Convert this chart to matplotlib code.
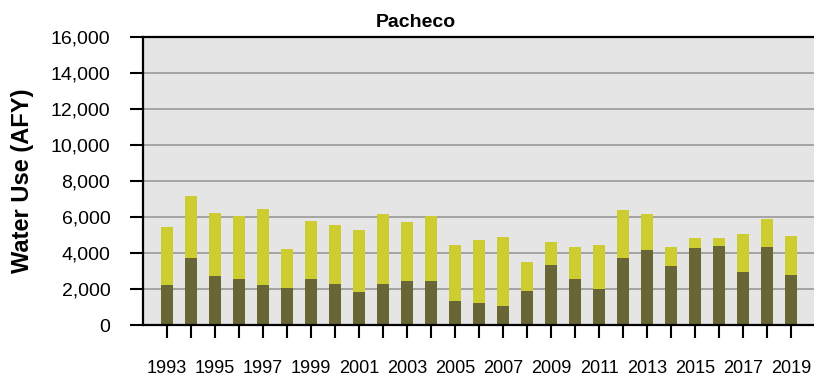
import matplotlib
matplotlib.use("Agg")
import matplotlib.pyplot as plt
import numpy as np

years = list(range(1993, 2020))
# lower (dark olive) series, AFY
lower_use = [2220, 3720, 2720, 2560, 2220, 2060, 2560, 2280, 1830, 2280,
             2440, 2440, 1330, 1220, 1060, 1890, 3330, 2560, 2000, 3720,
             4170, 3280, 4280, 4390, 2940, 4330, 2780]
# upper (yellow-green) series, AFY
upper_use = [3220, 3450, 3500, 3500, 4220, 2160, 3220, 3280, 3450, 3890,
             3280, 3620, 3110, 3500, 3830, 1610, 1280, 1770, 2440, 2670,
             2000, 1050, 550, 440, 2120, 1560, 2160]
year_labels = [str(y) if (y - 1993) % 2 == 0 else "" for y in years]
y_ticks = list(range(0, 16001, 2000))

plt.rcParams['font.family'] = ['Liberation Sans', 'DejaVu Sans']

W, H = 814, 380
fig = plt.figure(figsize=(W / 100, H / 100), dpi=100)
ax = fig.add_axes([143 / W, 1 - 325 / H, 671 / W, 288 / H])
ax.set_facecolor('#e5e5e5')

ax.bar(years, lower_use, width=0.5, color='#686634', zorder=3)
ax.bar(years, upper_use, width=0.5, bottom=lower_use, color='#cdcc30', zorder=3)

ax.set_xlim(1992, 1992 + 671 / 24)
ax.set_ylim(0, 16000)
ax.set_yticks(y_ticks)
ax.set_yticklabels([f"{v:,}" for v in y_ticks], fontsize=14)
ax.set_xticks(years)
ax.set_xticklabels(year_labels, fontsize=13)

ax.grid(axis='y', color='#999999', linewidth=1.2, zorder=1)
ax.tick_params(axis='y', length=9.5, width=1.5, pad=14, color='black')
ax.tick_params(axis='x', length=9.5, width=1.5, pad=16, color='black')

for side in ['left', 'bottom', 'top']:
    ax.spines[side].set_linewidth(1.6)
    ax.spines[side].set_color('black')
    ax.spines[side].set_zorder(4)
ax.spines['right'].set_visible(False)

fig.text(416 / W, 1 - 27 / H, "Pacheco", fontsize=14, fontweight='bold',
         ha='center', va='baseline')
fig.text(23 / W, 1 - 181 / H, "Water Use (AFY)", fontsize=17, fontweight='bold',
         rotation=90, ha='center', va='center')

fig.savefig("out.png", dpi=100)
